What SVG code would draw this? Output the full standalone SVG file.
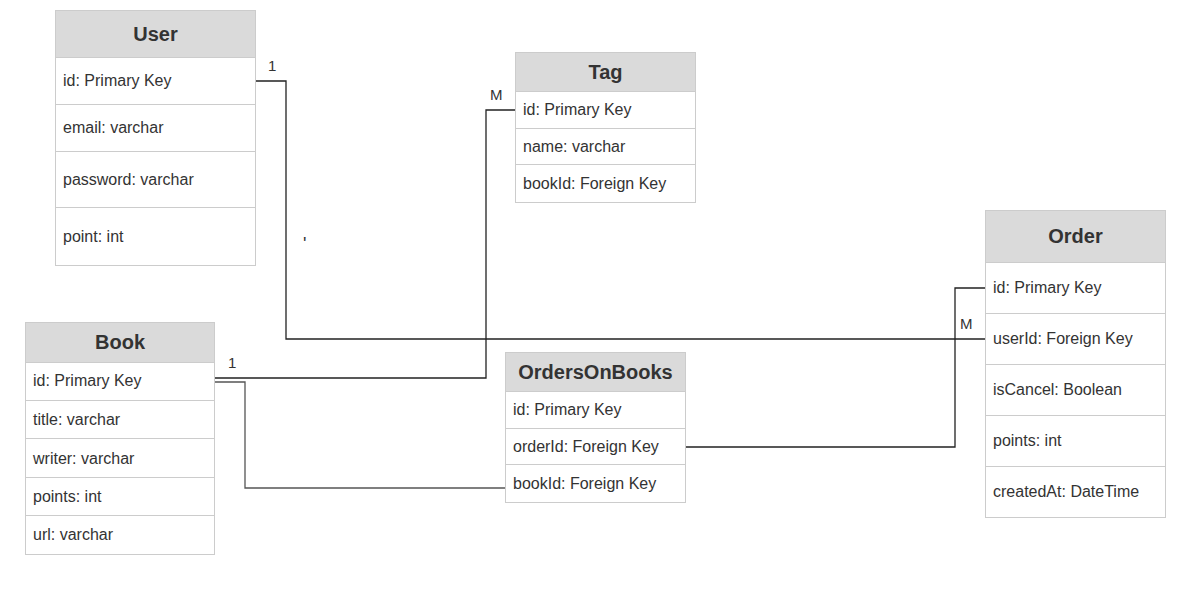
<svg xmlns="http://www.w3.org/2000/svg" width="1179" height="599" viewBox="0 0 1179 599">
<style>
.hdr{fill:#dadada;stroke:#cccccc;stroke-width:1}
.row{fill:#ffffff;stroke:#cccccc;stroke-width:1}
.t{font-family:"Liberation Sans",Arial,sans-serif;font-size:16px;fill:#333333}
.h{font-family:"Liberation Sans",Arial,sans-serif;font-size:20px;font-weight:bold;fill:#333333;text-anchor:middle}
.lbl{font-family:"Liberation Sans",Arial,sans-serif;font-size:15px;fill:#333333}
.c{fill:none;stroke:#222222;stroke-width:1.3}
.c2{fill:none;stroke:#555555;stroke-width:1.3}
</style>
<rect width="1179" height="599" fill="#ffffff"/>
<g id="connectors">
<polyline class="c" points="256,81 286,81 286,339 986,339"/>
<polyline class="c" points="515,110 486,110 486,378 215,378"/>
<polyline class="c2" points="215,382 245,382 245,488 505,488"/>
<polyline class="c" points="685,447 955,447 955,288 986,288"/>
<text class="lbl" x="268" y="71">1</text>
<text class="lbl" x="490" y="100">M</text>
<text class="lbl" x="228" y="368">1</text>
<text class="lbl" x="960" y="329">M</text>
<text class="lbl" x="303" y="250" style="font-size:18px">'</text>
</g>
<g id="user">
<rect class="hdr" x="55.5" y="10.5" width="200" height="47"/>
<rect class="row" x="55.5" y="57.5" width="200" height="47"/>
<rect class="row" x="55.5" y="104.5" width="200" height="47"/>
<rect class="row" x="55.5" y="151.5" width="200" height="56"/>
<rect class="row" x="55.5" y="207.5" width="200" height="58"/>
<text class="h" x="155.5" y="41">User</text>
<text class="t" x="63" y="86">id: Primary Key</text>
<text class="t" x="63" y="133">email: varchar</text>
<text class="t" x="63" y="185">password: varchar</text>
<text class="t" x="63" y="242">point: int</text>
</g>
<g id="tag">
<rect class="hdr" x="515.5" y="52.5" width="180" height="39"/>
<rect class="row" x="515.5" y="91.5" width="180" height="37"/>
<rect class="row" x="515.5" y="128.5" width="180" height="36"/>
<rect class="row" x="515.5" y="164.5" width="180" height="38"/>
<text class="h" x="605.5" y="79">Tag</text>
<text class="t" x="523" y="115">id: Primary Key</text>
<text class="t" x="523" y="152">name: varchar</text>
<text class="t" x="523" y="189">bookId: Foreign Key</text>
</g>
<g id="book">
<rect class="hdr" x="25.5" y="322.5" width="189" height="40"/>
<rect class="row" x="25.5" y="362.5" width="189" height="38"/>
<rect class="row" x="25.5" y="400.5" width="189" height="38"/>
<rect class="row" x="25.5" y="438.5" width="189" height="39"/>
<rect class="row" x="25.5" y="477.5" width="189" height="38"/>
<rect class="row" x="25.5" y="515.5" width="189" height="39"/>
<text class="h" x="120" y="349">Book</text>
<text class="t" x="33" y="386">id: Primary Key</text>
<text class="t" x="33" y="425">title: varchar</text>
<text class="t" x="33" y="464">writer: varchar</text>
<text class="t" x="33" y="502">points: int</text>
<text class="t" x="33" y="540">url: varchar</text>
</g>
<g id="ordersonbooks">
<rect class="hdr" x="505.5" y="352.5" width="180" height="39"/>
<rect class="row" x="505.5" y="391.5" width="180" height="37"/>
<rect class="row" x="505.5" y="428.5" width="180" height="36"/>
<rect class="row" x="505.5" y="464.5" width="180" height="38"/>
<text class="h" x="595.5" y="379">OrdersOnBooks</text>
<text class="t" x="513" y="415">id: Primary Key</text>
<text class="t" x="513" y="452">orderId: Foreign Key</text>
<text class="t" x="513" y="489">bookId: Foreign Key</text>
</g>
<g id="order">
<rect class="hdr" x="985.5" y="210.5" width="180" height="52"/>
<rect class="row" x="985.5" y="262.5" width="180" height="51"/>
<rect class="row" x="985.5" y="313.5" width="180" height="51"/>
<rect class="row" x="985.5" y="364.5" width="180" height="51"/>
<rect class="row" x="985.5" y="415.5" width="180" height="51"/>
<rect class="row" x="985.5" y="466.5" width="180" height="51"/>
<text class="h" x="1075.5" y="243">Order</text>
<text class="t" x="993" y="293">id: Primary Key</text>
<text class="t" x="993" y="344">userId: Foreign Key</text>
<text class="t" x="993" y="395">isCancel: Boolean</text>
<text class="t" x="993" y="446">points: int</text>
<text class="t" x="993" y="497">createdAt: DateTime</text>
</g>
</svg>
